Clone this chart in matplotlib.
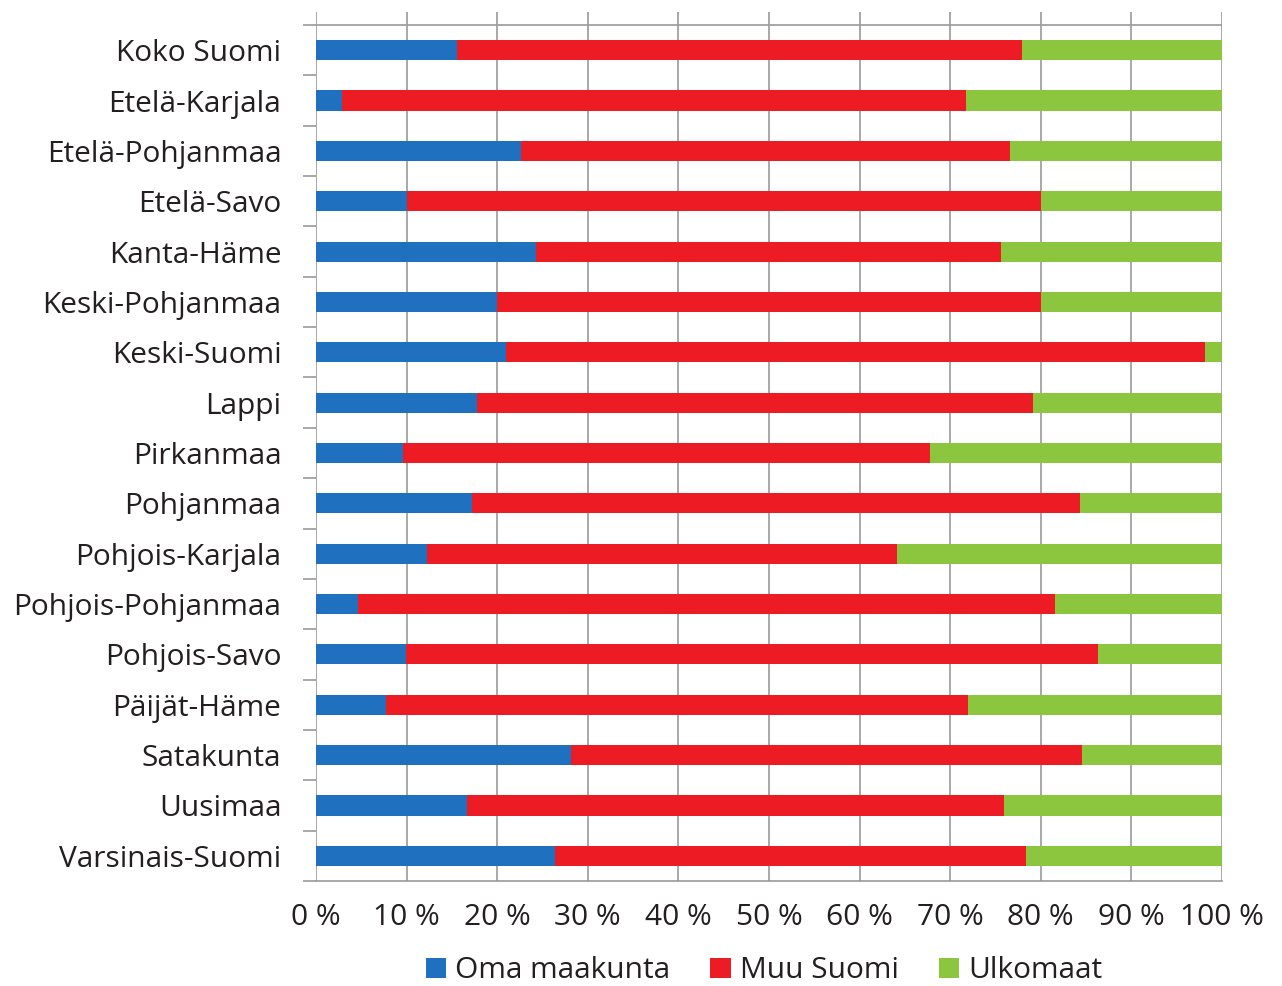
import matplotlib
matplotlib.use("Agg")
import matplotlib.pyplot as plt
from matplotlib.ticker import FixedLocator, FuncFormatter
import numpy as np

regions = ["Koko Suomi", "Etelä-Karjala", "Etelä-Pohjanmaa", "Etelä-Savo", "Kanta-Häme",
           "Keski-Pohjanmaa", "Keski-Suomi", "Lappi", "Pirkanmaa", "Pohjanmaa",
           "Pohjois-Karjala", "Pohjois-Pohjanmaa", "Pohjois-Savo", "Päijät-Häme",
           "Satakunta", "Uusimaa", "Varsinais-Suomi"]
oma_maakunta = [15.6, 2.9, 22.6, 10.0, 24.3, 20.0, 21.0, 17.8, 9.6, 17.2, 12.3, 4.6, 9.9, 7.7, 28.1, 16.7, 26.4]
muu_suomi_cum = [77.9, 71.7, 76.6, 80.0, 75.6, 80.0, 98.1, 79.1, 67.8, 84.3, 64.1, 81.6, 86.3, 72.0, 84.5, 75.9, 78.4]
muu_suomi = [round(c - o, 1) for c, o in zip(muu_suomi_cum, oma_maakunta)]
ulkomaat = [round(100 - c, 1) for c in muu_suomi_cum]
series_names = ["Oma maakunta", "Muu Suomi", "Ulkomaat"]
colors = ["#1F70BE", "#ED1C24", "#8CC63F"]
xticks = list(range(0, 101, 10))

plt.rcParams['font.family'] = ['Open Sans', 'DejaVu Sans']
fig = plt.figure(figsize=(12.82, 9.86), dpi=100)
ax = fig.add_axes([316/1282, 1-881/986, (1222-316)/1282, (881-12)/986])

y = np.arange(len(regions))
h = 0.40
left = np.zeros(len(regions))
for vals, name, c in zip([oma_maakunta, muu_suomi, ulkomaat], series_names, colors):
    ax.barh(y, vals, left=left, height=h, color=c, label=name, zorder=3)
    left = left + np.array(vals)

grid_c = "#9a9a9a"
ax.set_xlim(0, 100)
top_lim = -0.5 - 13/50.375
ax.set_ylim(len(regions) - 0.5, top_lim)
for s in ["top", "right", "left"]:
    ax.spines[s].set_visible(False)
ax.spines["bottom"].set_color(grid_c)
ax.spines["bottom"].set_linewidth(1.2)
for xv in xticks:
    ax.axvline(xv, color=grid_c, lw=1.2, zorder=1)
ax.axhline(-0.5, color=grid_c, lw=1.2, zorder=1)

fs = 21.5
ax.set_xticks(xticks)
ax.xaxis.set_major_formatter(FuncFormatter(lambda v, p: f"{int(v)} %"))
ax.tick_params(axis="x", length=0, pad=16, labelsize=fs, labelcolor="#231f20")

ax.set_yticks(y)
ax.set_yticklabels(regions)
ax.yaxis.set_minor_locator(FixedLocator(np.arange(-0.5, len(regions), 1.0)))
ax.tick_params(axis="y", which="major", length=0, pad=25, labelsize=fs, labelcolor="#231f20")
ax.tick_params(axis="y", which="minor", length=9.5, width=1.2, color=grid_c)

handles, labels = ax.get_legend_handles_labels()
fig.legend(handles, labels, loc="center", bbox_to_anchor=(764/1282, 1-971/986), ncol=3,
           frameon=False, fontsize=fs, handlelength=0.68, handleheight=0.68,
           handletextpad=0.3, columnspacing=1.35, labelcolor="#231f20")

fig.savefig("out.png", dpi=100)
